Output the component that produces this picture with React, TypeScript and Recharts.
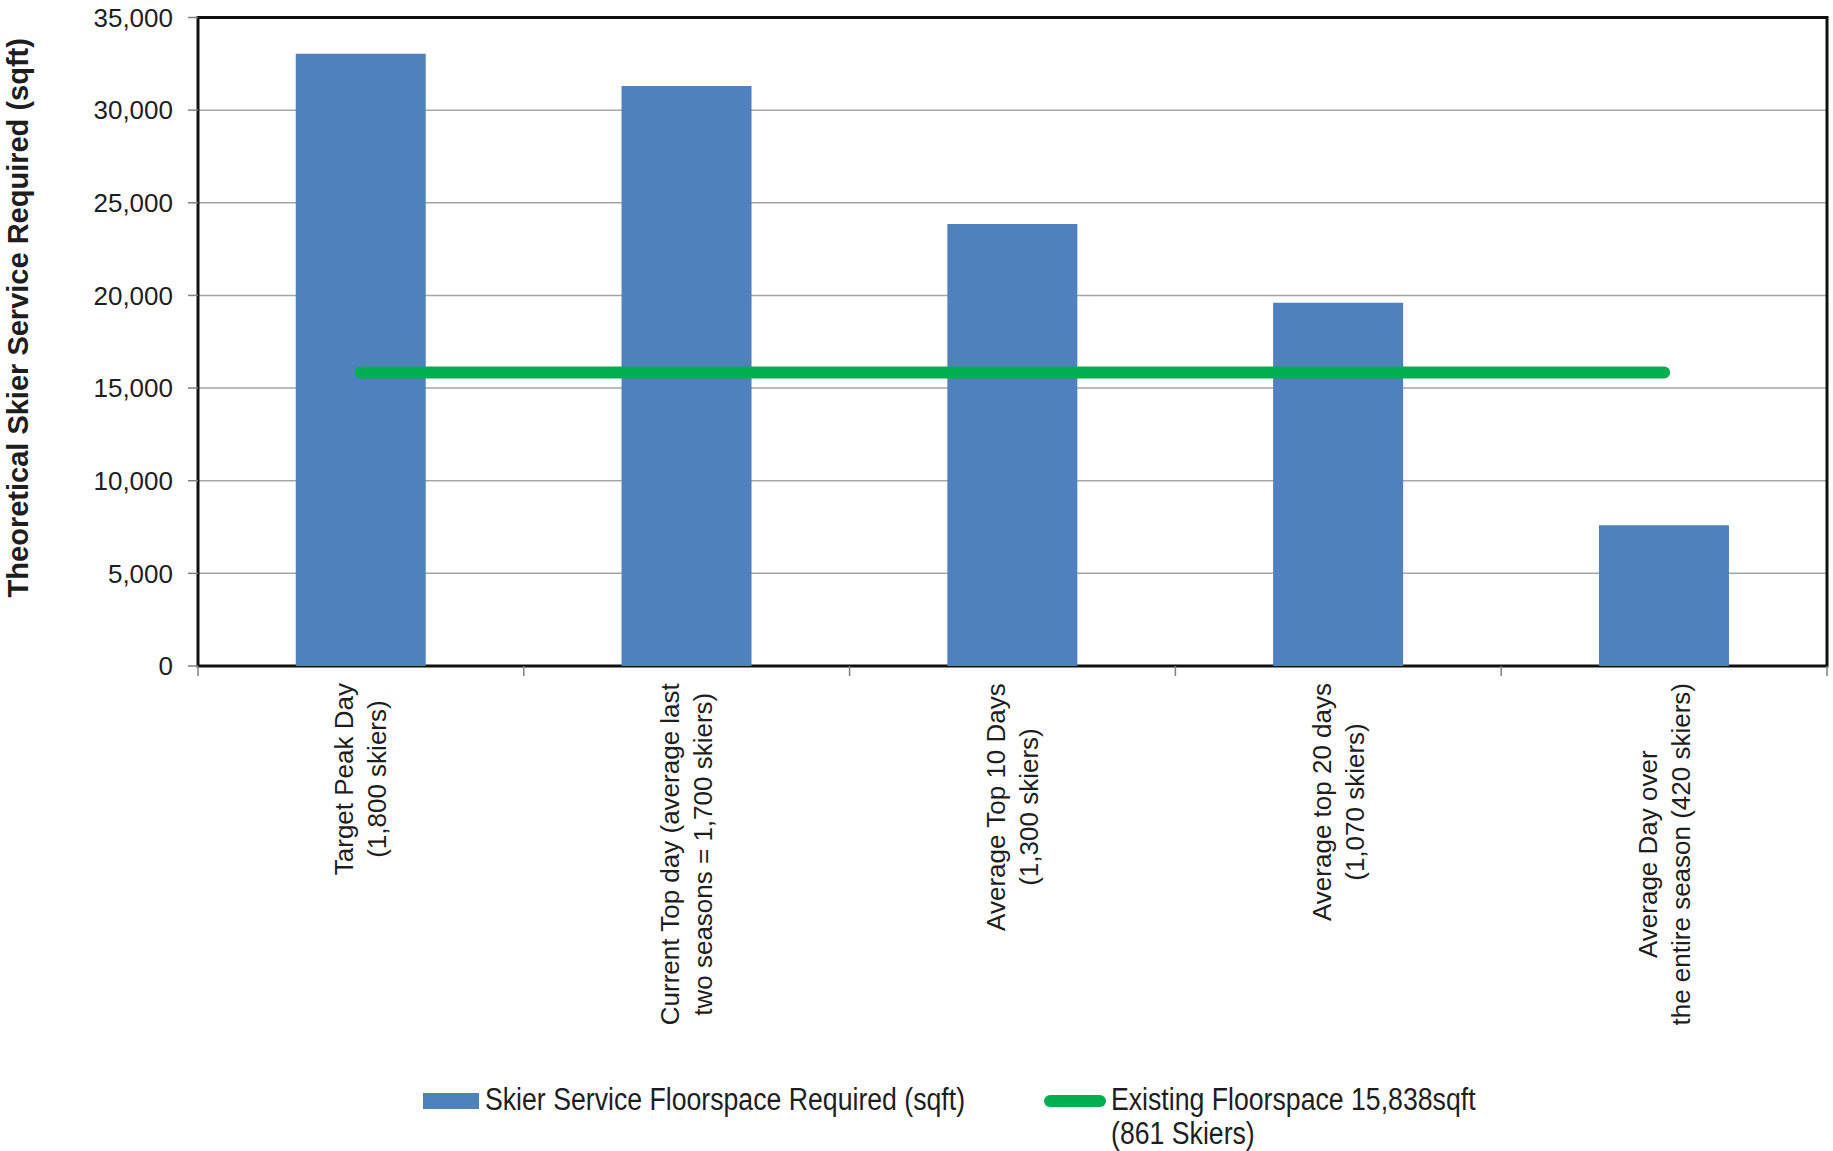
import React from 'react';
import { ComposedChart, Bar, Line, XAxis, YAxis, CartesianGrid, Legend, ReferenceArea } from 'recharts';

// categories (two-line labels) and the values
const categories = [
  'Target Peak Day\n(1,800 skiers)',
  'Current Top day (average last\ntwo seasons = 1,700 skiers)',
  'Average Top 10 Days\n(1,300 skiers)',
  'Average top 20 days\n(1,070 skiers)',
  'Average Day over\nthe entire season (420 skiers)',
];
const requiredSqft = [33050, 31300, 23850, 19600, 7600];
const existingSqft = [15838, 15838, 15838, 15838, 15838];
const yTicks = [0, 5000, 10000, 15000, 20000, 25000, 30000, 35000];

const BAR_COLOR = '#4f81bd';
const LINE_COLOR = '#00b050';
const TEXT_COLOR = '#1e1e1e';
const FONT = '"Liberation Sans", Arial, sans-serif';
const LEGEND_FONT = '"Liberation Sans", Arial, sans-serif';
const TICK_SIZE = 26;
const LINE_HEIGHT = 33;

const data = categories.map((c, i) => ({
  category: c,
  required: requiredSqft[i],
  existing: existingSqft[i],
}));

let measureCtx: CanvasRenderingContext2D | null = null;
const measure = (text: string, font: string) => {
  if (!measureCtx) measureCtx = document.createElement('canvas').getContext('2d');
  if (!measureCtx) return text.length * 14;
  measureCtx.font = font;
  return measureCtx.measureText(text).width;
};

// rotated, centre-aligned multi line category label, top end against the axis.
// Excel puts the tick marks between categories, so they are drawn here at the band edges.
const CategoryTick = (props: any) => {
  const { x, y, payload, index, width, visibleTicksCount } = props;
  const half = width / visibleTicksCount / 2;
  const lines = String(payload.value).split('\n');
  const maxW = Math.max(...lines.map(l => measure(l, `${TICK_SIZE}px "Liberation Sans"`)));
  return (
    <g>
      <line x1={x - half} y1={y} x2={x - half} y2={y + 10} stroke="#808080" strokeWidth={1.5} />
      {index === visibleTicksCount - 1 && (
        <line x1={x + half} y1={y} x2={x + half} y2={y + 10} stroke="#808080" strokeWidth={1.5} />
      )}
      <g transform={`translate(${x},${y + 17}) rotate(-90)`}>
        {lines.map((line, i) => (
          <text
            key={i}
            x={-maxW / 2}
            y={(i - (lines.length - 1) / 2) * LINE_HEIGHT}
            textAnchor="middle"
            dominantBaseline="central"
            fontSize={TICK_SIZE}
            fontFamily={FONT}
            fill={TEXT_COLOR}
          >
            {line}
          </text>
        ))}
      </g>
    </g>
  );
};

const YTitle = (props: any) => {
  const { viewBox } = props;
  const cx = viewBox.x + 18;
  const cy = viewBox.y + viewBox.height / 2 - 24;
  return (
    <text
      x={cx}
      y={cy}
      transform={`rotate(-90, ${cx}, ${cy})`}
      textAnchor="middle"
      dominantBaseline="central"
      fontSize={29}
      fontWeight="bold"
      fontFamily={FONT}
      fill={TEXT_COLOR}
    >
      Theoretical Skier Service Required (sqft)
    </text>
  );
};

const renderLegend = (props: any) => {
  const items = props.payload || [];
  const bar = items.find((p: any) => p.dataKey === 'required');
  const line = items.find((p: any) => p.dataKey === 'existing');
  // the original legend uses a condensed face; squeeze the text horizontally
  const textStyle: React.CSSProperties = {
    position: 'absolute',
    top: 0,
    fontFamily: LEGEND_FONT,
    fontSize: 31,
    lineHeight: '34px',
    color: TEXT_COLOR,
    whiteSpace: 'pre',
    transform: 'scaleX(0.86)',
    transformOrigin: '0 0',
  };
  return (
    <div style={{ position: 'relative', width: 1833, height: 73 }}>
      {bar && (
        <>
          <svg style={{ position: 'absolute', left: 423, top: 0 }} width={56} height={34}>
            <rect x={0} y={10} width={56} height={16} fill={bar.color} />
          </svg>
          <span style={{ ...textStyle, left: 485 }}>{bar.value}</span>
        </>
      )}
      {line && (
        <>
          <svg style={{ position: 'absolute', left: 1044, top: 0 }} width={62} height={34}>
            <line x1={6} y1={18} x2={56} y2={18} stroke={line.color} strokeWidth={12} strokeLinecap="round" />
          </svg>
          <span style={{ ...textStyle, left: 1111 }}>{line.value}</span>
        </>
      )}
    </div>
  );
};

export default function App() {
  return (
    <div style={{ position: 'absolute', left: 0, top: 0, background: '#fff' }}>
      <ComposedChart
        width={1833}
        height={1151}
        data={data}
        margin={{ top: 17.5, right: 6, bottom: 0, left: 0 }}
        barCategoryGap="30%"
      >
        <CartesianGrid vertical={false} stroke="#a6a6a6" strokeWidth={1.5} />
        <XAxis
          dataKey="category"
          interval={0}
          height={485}
          tickLine={false}
          tickSize={0}
          tickMargin={0}
          axisLine={false}
          tick={<CategoryTick />}
        />
        <YAxis
          width={198}
          domain={[0, 35000]}
          ticks={yTicks}
          interval={0}
          axisLine={false}
          tickLine={{ stroke: '#808080', strokeWidth: 1.5 }}
          tickSize={10}
          tickMargin={15}
          tick={{ fontSize: TICK_SIZE, fontFamily: FONT, fill: TEXT_COLOR }}
          tickFormatter={(v: number) => v.toLocaleString('en-US')}
          label={<YTitle />}
        />
        <Bar
          dataKey="required"
          name="Skier Service Floorspace Required (sqft)"
          fill={BAR_COLOR}
          isAnimationActive={false}
        />
        <Line
          dataKey="existing"
          name={'Existing Floorspace 15,838sqft\n(861 Skiers)'}
          stroke={LINE_COLOR}
          strokeWidth={12}
          strokeLinecap="round"
          dot={false}
          activeDot={false}
          isAnimationActive={false}
        />
        <ReferenceArea y1={0} y2={35000} fill="none" stroke="#111" strokeWidth={3} ifOverflow="visible" />
        <Legend
          layout="horizontal"
          verticalAlign="middle"
          align="center"
          wrapperStyle={{ top: 1083, left: 0, width: 1833, height: 73 }}
          content={renderLegend}
        />
      </ComposedChart>
    </div>
  );
}
